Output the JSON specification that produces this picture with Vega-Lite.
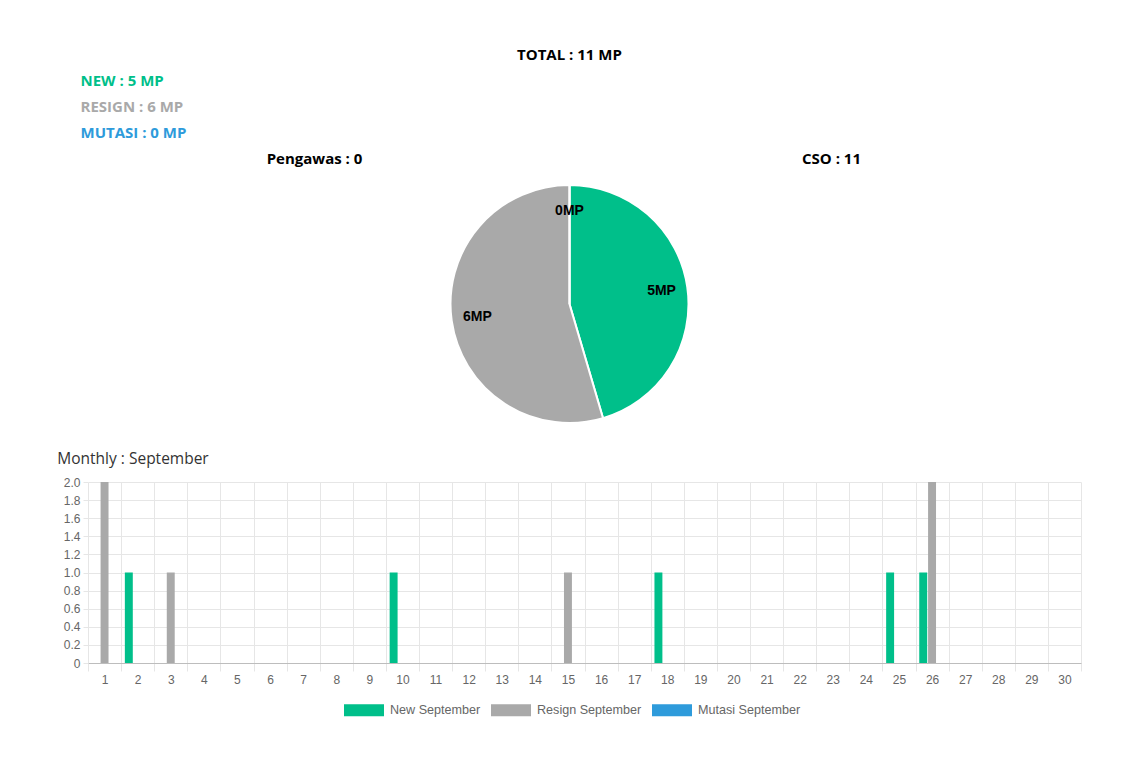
{
  "$schema": "https://vega.github.io/schema/vega-lite/v6.json",
  "background": "white",
  "padding": {"left": 57, "top": 48, "right": 10, "bottom": 10},
  "title": {"text": "TOTAL : 11 MP", "font": "Open Sans", "fontSize": 15, "fontWeight": "bold", "color": "#000000", "anchor": "middle", "offset": 5},
  "datasets": {
    "totals": [
      {"kind": "New", "value": 5, "summary": "NEW : 5 MP", "pieLabel": "5MP"},
      {"kind": "Resign", "value": 6, "summary": "RESIGN : 6 MP", "pieLabel": "6MP"},
      {"kind": "Mutasi", "value": 0, "summary": "MUTASI : 0 MP", "pieLabel": "0MP"}
    ],
    "groups": [
      {"group": "Pengawas", "count": 0, "header": "Pengawas : 0"},
      {"group": "CSO", "count": 11, "header": "CSO : 11"}
    ],
    "daily": [
      {"day": 1, "series": "Resign September", "count": 2},
      {"day": 2, "series": "New September", "count": 1},
      {"day": 3, "series": "Resign September", "count": 1},
      {"day": 10, "series": "New September", "count": 1},
      {"day": 15, "series": "Resign September", "count": 1},
      {"day": 18, "series": "New September", "count": 1},
      {"day": 25, "series": "New September", "count": 1},
      {"day": 26, "series": "New September", "count": 1},
      {"day": 26, "series": "Resign September", "count": 2}
    ]
  },
  "spacing": 15,
  "resolve": {"scale": {"color": "independent"}, "legend": {"color": "independent"}},
  "vconcat": [
    {
      "bounds": "flush",
      "spacing": 0,
      "vconcat": [
        {
          "width": 1,
          "height": 78,
          "data": {"name": "totals"},
          "mark": {"type": "text", "align": "left", "baseline": "middle", "font": "Open Sans", "fontSize": 15, "fontWeight": "bold", "dx": -8},
          "encoding": {
            "y": {"field": "kind", "type": "nominal", "sort": null, "axis": null},
            "text": {"field": "summary"},
            "color": {"field": "kind", "type": "nominal", "scale": {"domain": ["New", "Resign", "Mutasi"], "range": ["#00bf8a", "#a9a9a9", "#2e9bdb"]}, "legend": null}
          }
        },
        {
          "width": 970,
          "height": 26,
          "data": {"name": "groups"},
          "mark": {"type": "text", "align": "center", "baseline": "middle", "font": "Open Sans", "fontSize": 15, "fontWeight": "bold", "color": "#000000"},
          "encoding": {
            "x": {"field": "group", "type": "nominal", "sort": null, "axis": null, "scale": {"type": "point", "padding": 0.438}},
            "text": {"field": "header"}
          }
        },
        {
          "width": 963,
          "height": 264,
          "data": {"name": "totals"},
          "layer": [
            {
              "mark": {"type": "arc", "outerRadius": 119, "stroke": "#ffffff", "strokeWidth": 2},
              "encoding": {
                "theta": {"field": "value", "type": "quantitative", "stack": true},
                "order": {"field": "kind", "type": "nominal"},
                "color": {"field": "kind", "type": "nominal", "scale": {"domain": ["New", "Resign", "Mutasi"], "range": ["#00bf8a", "#a9a9a9", "#2e9bdb"]}, "legend": null}
              }
            },
            {
              "mark": {"type": "text", "radius": 93, "font": "Liberation Sans", "fontSize": 14, "fontWeight": "bold", "color": "#000000"},
              "encoding": {
                "theta": {"field": "value", "type": "quantitative", "stack": true},
                "order": {"field": "kind", "type": "nominal"},
                "text": {"field": "pieLabel"}
              }
            }
          ]
        }
      ]
    },
    {
      "width": 993,
      "height": 181,
      "title": {"text": "Monthly : September", "font": "Open Sans", "fontSize": 15.5, "fontWeight": "normal", "color": "#333333", "anchor": "start", "frame": "bounds", "offset": 9, "dx": -6},
      "data": {"name": "daily"},
      "mark": {"type": "bar"},
      "encoding": {
        "x": {
          "field": "day", "type": "ordinal",
          "scale": {"domain": [1,2,3,4,5,6,7,8,9,10,11,12,13,14,15,16,17,18,19,20,21,22,23,24,25,26,27,28,29,30], "paddingInner": 0, "paddingOuter": 0},
          "axis": {"title": null, "labelAngle": 0, "tickBand": "extent", "grid": true, "gridColor": "#e6e6e6", "tickColor": "#e6e6e6", "tickSize": 8, "domainColor": "#bdbdbd", "labelFont": "Liberation Sans", "labelFontSize": 12, "labelColor": "#666666", "labelPadding": 3}
        },
        "xOffset": {
          "field": "series", "type": "nominal",
          "scale": {"domain": ["New September", "Resign September", "Mutasi September"], "paddingInner": 0.1, "paddingOuter": 0.425}
        },
        "y": {
          "field": "count", "type": "quantitative",
          "scale": {"domain": [0, 2]},
          "axis": {"title": null, "values": [0, 0.2, 0.4, 0.6, 0.8, 1, 1.2, 1.4, 1.6, 1.8, 2], "labelExpr": "datum.value == 0 ? '0' : format(datum.value, '.1f')", "grid": true, "gridColor": "#e6e6e6", "tickColor": "#e6e6e6", "tickSize": 5, "domain": false, "labelFont": "Liberation Sans", "labelFontSize": 12, "labelColor": "#666666", "labelPadding": 3}
        },
        "color": {
          "field": "series", "type": "nominal",
          "scale": {"domain": ["New September", "Resign September", "Mutasi September"], "range": ["#00bf8a", "#a9a9a9", "#2e9bdb"]},
          "legend": {"orient": "none", "legendX": 256, "legendY": 208, "direction": "horizontal", "title": null, "symbolType": "M-1,-0.3H1V0.3H-1Z", "symbolSize": 1600, "symbolStrokeWidth": 0, "symbolOpacity": 1, "labelFont": "Liberation Sans", "labelFontSize": 12.6, "labelColor": "#666666", "columnPadding": 10, "labelOffset": 6}
        }
      }
    }
  ],
  "config": {"view": {"stroke": null}, "font": "Open Sans"}
}
